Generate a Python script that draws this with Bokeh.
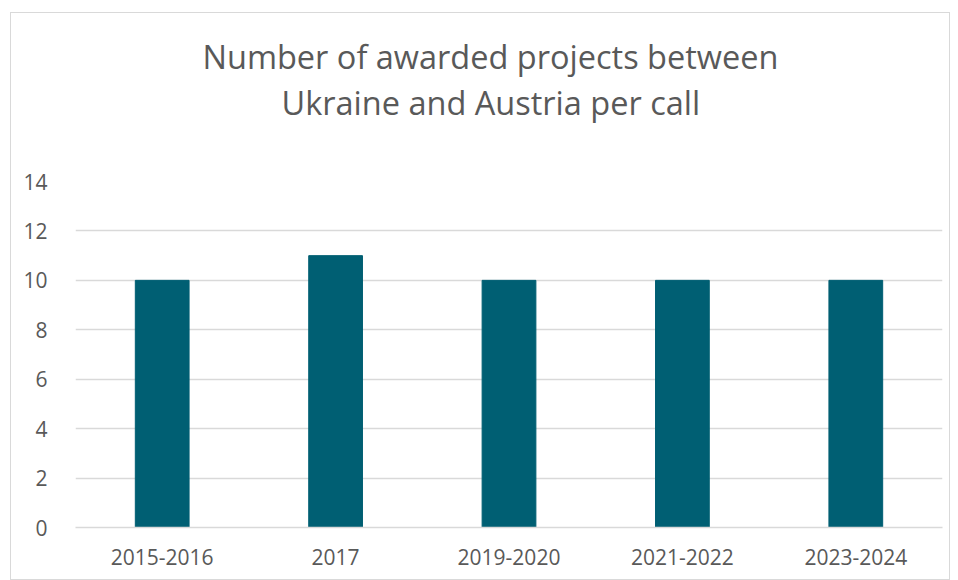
from bokeh.plotting import figure
from bokeh.models import ColumnDataSource, Title, FixedTicker
from bokeh.embed import file_html
from bokeh.resources import INLINE

categories = ["2015-2016", "2017", "2019-2020", "2021-2022", "2023-2024"]
projects = [10, 11, 10, 10, 10]
y_ticks = [0, 2, 4, 6, 8, 10, 12, 14]

TEXT = "#595959"
GRID = "#d9d9d9"
BAR = "#005F73"
FONT = "Open Sans"

src = ColumnDataSource(dict(cat=categories, val=projects))

p = figure(x_range=categories, y_range=(0, 14), width=940, height=568,
           output_backend="svg", toolbar_location=None,
           min_border_left=64, min_border_right=9, min_border_bottom=54, min_border_top=10,
           margin=(12, 0, 0, 10),
           styles={"border": "1px solid #d9d9d9", "box-sizing": "border-box"})

p.vbar(x="cat", top="val", width=0.31, source=src, fill_color=BAR, line_color=BAR)

p.title = None
spacer = Title(text=" ", align="left", text_font=FONT, text_font_size="10px",
               text_color=TEXT, standoff=41)
t2 = Title(text="Ukraine and Austria per call", align="left", text_font=FONT,
           text_font_size="32.5px", text_color=TEXT, text_font_style="normal",
           offset=206, standoff=-1)
t1 = Title(text="Number of awarded projects between", align="left", text_font=FONT,
           text_font_size="32.5px", text_color=TEXT, text_font_style="normal",
           offset=127, standoff=0)
top_spacer = Title(text=" ", align="left", text_font=FONT, text_font_size="10px",
                   text_color=TEXT, standoff=2)
p.add_layout(spacer, "above")
p.add_layout(t2, "above")
p.add_layout(t1, "above")
p.add_layout(top_spacer, "above")

p.outline_line_color = None
p.xgrid.grid_line_color = None
p.ygrid.grid_line_color = GRID
p.ygrid.grid_line_width = 1.5
p.yaxis.ticker = FixedTicker(ticks=y_ticks)
p.yaxis.axis_line_color = None
p.yaxis.major_tick_line_color = None
p.yaxis.minor_tick_line_color = None
p.yaxis.major_label_standoff = 22
p.yaxis.major_label_text_font = FONT
p.yaxis.major_label_text_font_size = "21px"
p.yaxis.major_label_text_color = TEXT

p.xaxis.axis_line_color = GRID
p.xaxis.axis_line_width = 1.5
p.xaxis.major_tick_line_color = None
p.xaxis.minor_tick_line_color = None
p.xaxis.major_label_standoff = 15
p.xaxis.major_label_text_font = FONT
p.xaxis.major_label_text_font_size = "21px"
p.xaxis.major_label_text_color = TEXT
p.x_range.range_padding = 0

open("out.html", "w").write(file_html(p, INLINE))
